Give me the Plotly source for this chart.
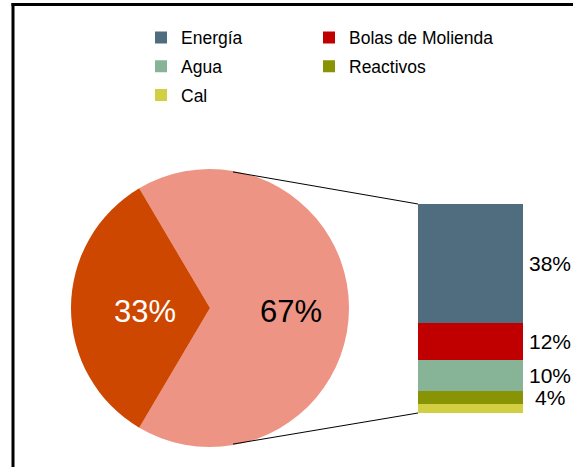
import math
import plotly.graph_objects as go

# ---- data ----
pie_labels = ["Insumos", "Otros"]
pie_values = [67, 33]
pie_text = ["67%", "33%"]
pie_colors = ["#EE9484", "#CD4700"]
pie_text_colors = ["black", "white"]

bar_labels = ["Energía", "Bolas de Molienda", "Agua", "Reactivos", "Cal"]
bar_values = [38, 12, 10, 4, 3]
bar_text = ["38%", "12%", "10%", "4%", ""]
bar_colors = ["#4F6D7E", "#C00000", "#87B396", "#889306", "#D2CF43"]
legend_of = ["legend", "legend2", "legend", "legend2", "legend"]

# ---- layout constants (pixels) ----
W, H = 573, 467
cx, cy, r = 210, 308, 139
bx0, bx1, by0, by1 = 418, 523, 204, 413


def px(x):
    return x / W


def py(y):
    return 1 - y / H


fig = go.Figure()

fig.add_trace(go.Pie(
    labels=pie_labels, values=pie_values, sort=False,
    direction="clockwise", rotation=-30.6,
    marker=dict(colors=pie_colors, line=dict(width=0)),
    textinfo="none", hoverinfo="label+percent", showlegend=False,
    domain=dict(x=[px(cx - r), px(cx + r)], y=[py(cy + r), py(cy - r)]),
))

total = sum(bar_values)
# stack bottom to top: Cal ... Energía
n = len(bar_labels)
for i in reversed(range(n)):
    fig.add_trace(go.Bar(
        x=[0], y=[bar_values[i]], name=bar_labels[i],
        marker=dict(color=bar_colors[i], line=dict(width=0)),
        width=1, legend=legend_of[i], legendgroup=bar_labels[i],
        legendrank=i, showlegend=True,
    ))

annotations = []
# pie labels (positions along slice bisectors)
pie_offsets = [0.58, -0.47]
for t, c, off in zip(pie_text, pie_text_colors, pie_offsets):
    annotations.append(dict(x=px(cx + off * r), y=py(cy + 3), xref="paper", yref="paper",
                            xanchor="center", yanchor="middle",
                            text=t, showarrow=False,
                            font=dict(size=31, color=c, family="Liberation Sans")))
# bar labels at segment centers
cum = total
for val, t in zip(bar_values, bar_text):
    mid = cum - val / 2
    cum -= val
    if t:
        annotations.append(dict(x=px(550), y=mid, xref="paper", yref="y", text=t,
                                xanchor="center", yanchor="middle", showarrow=False,
                                font=dict(size=21, color="black", family="Liberation Sans")))

# connector lines from pie edge to bar corners
ang = math.asin(23 / r)
tx, ty = cx + r * math.sin(ang), cy - r * math.cos(ang)
bxb, byb = cx + r * math.sin(ang), cy + r * math.cos(ang)
shapes = [
    dict(type="line", xref="paper", yref="paper", x0=px(tx), y0=py(ty + 1), x1=px(bx0), y1=py(by0),
         line=dict(color="black", width=1)),
    dict(type="line", xref="paper", yref="paper", x0=px(bxb), y0=py(byb - 1), x1=px(bx0), y1=py(by1),
         line=dict(color="black", width=1)),
    # outer frame (top and left edges visible)
    dict(type="line", xref="paper", yref="paper", x0=px(11.5), y0=py(4.5), x1=1.0, y1=py(4.5),
         line=dict(color="black", width=3), layer="above"),
    dict(type="line", xref="paper", yref="paper", x0=px(13), y0=py(3), x1=px(13), y1=0.0,
         line=dict(color="black", width=3), layer="above"),
]

legend_common = dict(yanchor="top", xanchor="left", orientation="v",
                     font=dict(size=17.5, family="Liberation Sans"), tracegroupgap=3,
                     bgcolor="rgba(0,0,0,0)", itemwidth=30, traceorder="grouped")

fig.update_layout(
    width=W, height=H, margin=dict(l=0, r=0, t=0, b=0),
    paper_bgcolor="white", plot_bgcolor="white",
    barmode="stack", bargap=0,
    font=dict(family="Liberation Sans", color="black"),
    xaxis=dict(domain=[px(bx0), px(bx1)], range=[-0.5, 0.5], visible=False, fixedrange=True),
    yaxis=dict(domain=[py(by1), py(by0)], range=[0, total], visible=False, fixedrange=True),
    legend=dict(x=px(141), y=py(19.5), **legend_common),
    legend2=dict(x=px(309), y=py(19.5), **legend_common),
    annotations=annotations, shapes=shapes,
)

fig.write_html("out.html", config={"displayModeBar": False},
               post_script="document.body.style.margin='0';document.body.style.overflow='hidden';window.scrollTo(0,0);")
